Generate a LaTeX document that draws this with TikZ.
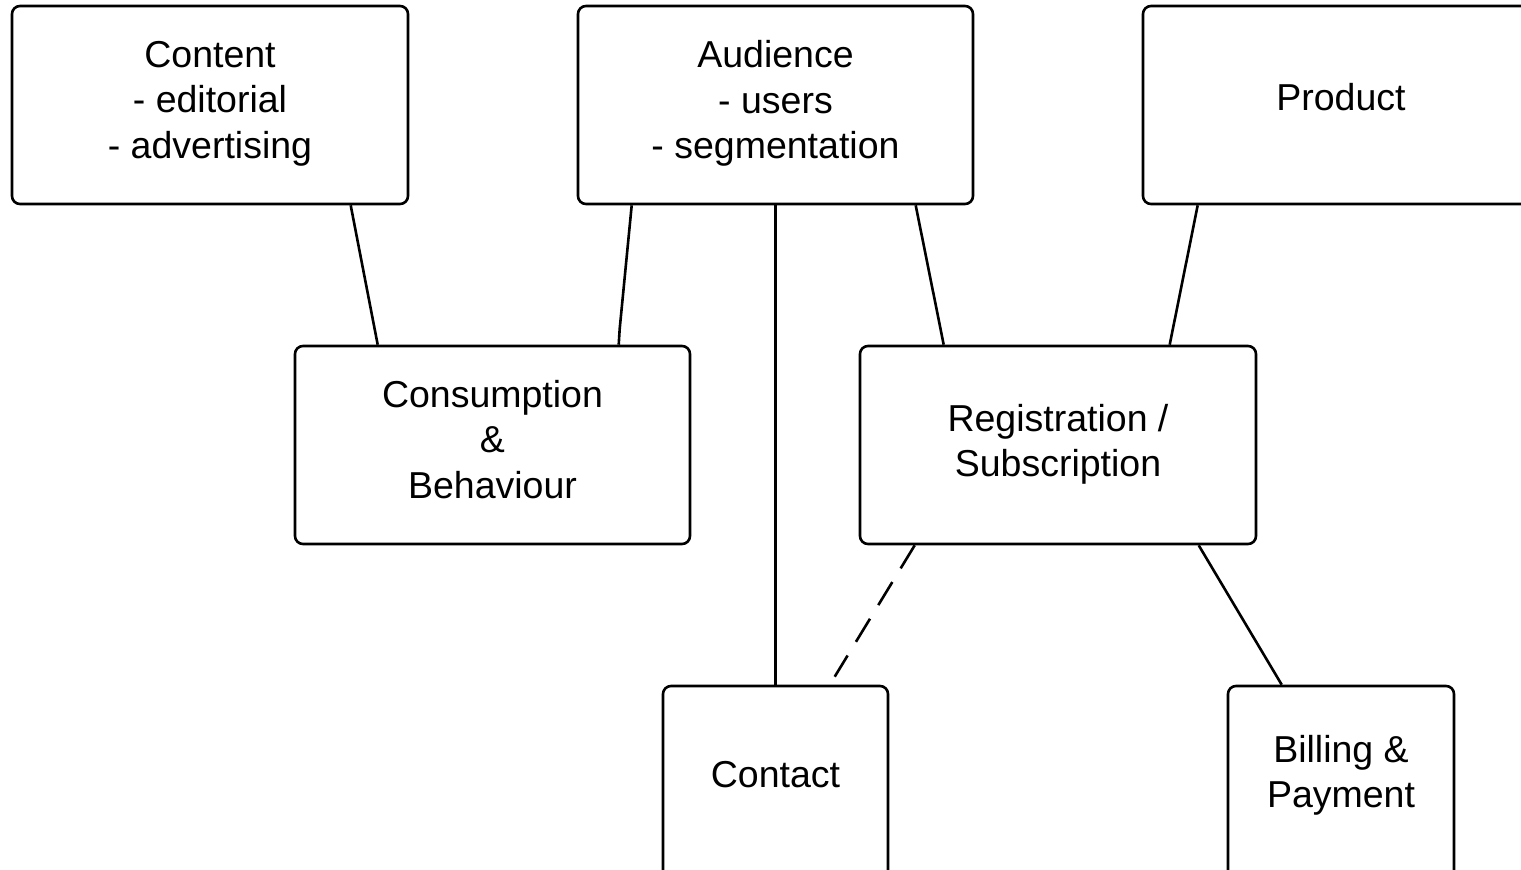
\documentclass[tikz,border=0pt]{standalone}
\usepackage{fontspec}
\setmainfont{Liberation Sans}
\usetikzlibrary{calc}
\begin{document}
\begin{tikzpicture}[x=1pt,y=-1pt,
  box/.style={draw=black,line width=2.6pt,rounded corners=8pt,fill=white,inner sep=0pt},
  lbl/.style={align=center,inner sep=0pt,font=\fontsize{37.5}{45.5}\selectfont,text=black},
  conn/.style={draw=black,line width=2.6pt}]
\useasboundingbox (0,0) rectangle (1521,870);
\clip (0,0) rectangle (1521,870);
\fill[white] (0,0) rectangle (1521,870);
% boxes
\node[box,minimum width=396pt,minimum height=198pt] (content) at (210,105) {};
\node[box,minimum width=395pt,minimum height=198pt] (audience) at (775.5,105) {};
\node[box,minimum width=396pt,minimum height=198pt] (product) at (1341,105) {};
\node[box,minimum width=395pt,minimum height=198pt] (consumption) at (492.5,445) {};
\node[box,minimum width=396pt,minimum height=198pt] (registration) at (1058,445) {};
\node[box,minimum width=225pt,minimum height=198pt] (contact) at (775.5,785) {};
\node[box,minimum width=226pt,minimum height=198pt] (billing) at (1341,785) {};
% labels
\node[lbl] (contentT) at (210,103.5) {Content\\- editorial\\- advertising};
\node[lbl] (audienceT) at (775.5,103.5) {Audience\\- users\\- segmentation};
\node[lbl] (productT) at (1341,97) {Product};
\node[lbl] (consumptionT) at (492.5,439.5) {Consumption\\\&\\Behaviour};
\node[lbl] (registrationT) at (1058,444.5) {Registration /\\Subscription};
\node[lbl] (contactT) at (775.5,774.5) {Contact};
\node[lbl] (billingT) at (1341,775.5) {Billing \&\\Payment};
% connectors
\draw[conn] ($(content.south west)+(340,0)$) -- ($(consumption.north west)+(84,0)$);
\draw[conn] ($(audience.south west)+(55,0)$) -- ($(consumption.north west)+(326,-16)$) -- ($(consumption.north west)+(325,0)$);
\draw[conn] (audience.south) -- (contact.north);
\draw[conn] ($(audience.south west)+(339,0)$) -- ($(registration.north west)+(85,0)$);
\draw[conn] ($(product.south west)+(56,0)$) -- ($(registration.north west)+(311,0)$);
\draw[conn,dash pattern=on 27pt off 16pt] ($(registration.south west)+(56,0)$) -- ($(contact.north west)+(173,-8)$);
\draw[conn] ($(registration.south west)+(340,0)$) -- ($(billing.north west)+(55,0)$);
\end{tikzpicture}
\end{document}
